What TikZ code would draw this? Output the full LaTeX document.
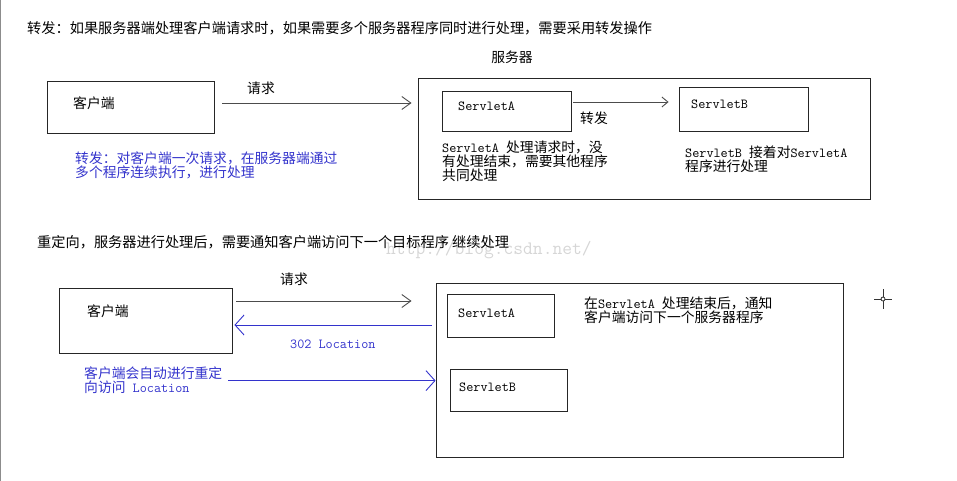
\documentclass[tikz,border=0pt]{standalone}
\usepackage{fontspec}
\setmainfont{Noto Sans CJK SC}
\usetikzlibrary{arrows.meta,calc}
\definecolor{noteblue}{RGB}{51,51,204}
\newcommand{\enmono}[1]{{\ttfamily #1}}

\begin{document}
\begin{tikzpicture}[x=1pt,y=-1pt,
  box/.style={draw=black!85,line width=0.9pt,inner sep=0pt},
  txt/.style={inner sep=0pt,font=\fontsize{13.8pt}{14pt}\selectfont},
  headline/.style={txt,anchor=west,font=\fontsize{14.2pt}{14pt}\selectfont},
  note/.style={txt,align=left,anchor=north west},
  arr/.style={draw=black!70,line width=0.9pt,-{Straight Barb[length=9pt,width=13pt]}},
  bluearr/.style={arr,draw=noteblue,-{Straight Barb[length=9pt,width=20pt]}}]

\useasboundingbox (0,0) rectangle (957,481);

% Left edge
\draw[black!45,line width=1pt] (0.5,0) -- (0.5,481);

% Forwarding
\node[headline] (fwdtitle) at (27,28) {转发：如果服务器端处理客户端请求时，如果需要多个服务器程序同时进行处理，需要采用转发操作};
\node[txt] (srvlabel) at (512,57) {服务器};

% Client and server boxes
\node[box,minimum width=167pt,minimum height=52pt] (client1) at (130.5,107) {};
\node[txt,anchor=west] (client1txt) at (73,103) {客户端};
\node[box,minimum width=452pt,minimum height=121pt] (server1) at (644,138.5) {};

% Servlets inside the server
\node[box,minimum width=129pt,minimum height=40pt] (servletA1) at (506.5,111) {};
\node[txt,anchor=west] (servletA1txt) at (458,106) {\enmono{ServletA}};
\node[box,minimum width=129pt,minimum height=44pt] (servletB1) at (743.5,109) {};
\node[txt,anchor=west] (servletB1txt) at (691,104) {\enmono{ServletB}};

% Request and forward
\draw[arr] ($(client1.east)+(8,-4)$) -- ($(client1.east -| server1.west)+(-6,-4)$);
\node[txt,anchor=west] (req1) at (247,88) {请求};
\draw[arr,-{Straight Barb[length=6pt,width=10pt]}] ($(servletA1.east)+(2,-9)$) -- ($(servletA1.east -| servletB1.west)+(-10,-9)$);
\node[txt,anchor=west] (fwd) at (580,118) {转发};

% Notes
\node[note] (noteA1) at (442,141) {\enmono{ServletA }处理请求时，没\\有处理结束，需要其他程序\\共同处理};
\node[note] (noteB1) at (685,146) {\enmono{ServletB }接着对\enmono{ServletA}\\程序进行处理};
\node[note,text=noteblue] (fwdnote) at (75,152) {转发：对客户端一次请求，在服务器端通过\\多个程序连续执行，进行处理};

% Redirect
\node[anchor=west,inner sep=0pt,text=black!16,font=\fontsize{19pt}{19pt}\ttfamily] (watermark) at (386,250) {http://blog.csdn.net/};
\node[headline] (redirtitle) at (37,242) {重定向，服务器进行处理后，需要通知客户端访问下一个目标程序 继续处理};

\node[box,minimum width=173pt,minimum height=65pt] (client2) at (145.5,320.5) {};
\node[txt,anchor=west] (client2txt) at (87,311) {客户端};
\node[box,minimum width=407pt,minimum height=174pt] (server2) at (639.5,370) {};

\node[box,minimum width=107pt,minimum height=43pt] (servletA2) at (500.5,315.5) {};
\node[txt,anchor=west] (servletA2txt) at (458,313) {\enmono{ServletA}};
\node[box,minimum width=117pt,minimum height=42pt] (servletB2) at (508.5,390) {};
\node[txt,anchor=west] (servletB2txt) at (459,387) {\enmono{ServletB}};

% Request, 302 and second request
\draw[arr] ($(client2.east)+(4,-19.5)$) -- ($(client2.east -| server2.west)+(-24,-19.5)$);
\node[txt,anchor=west] (req2) at (280,279) {请求};
\draw[bluearr] ($(client2.east -| server2.west)+(-4,4.5)$) -- ($(client2.east)+(2,4.5)$);
\node[txt,anchor=west,text=noteblue] (loc) at (290,344) {\enmono{302 Location}};
\node[note,text=noteblue] (redirnote) at (84,367) {客户端会自动进行重定\\向访问\enmono{ Location}};
\draw[bluearr] ($(redirnote.east)+(6,0)$) -- (redirnote.east -| server2.west);

\node[note] (noteA2) at (584,297) {在\enmono{ServletA }处理结束后，通知\\客户端访问下一个服务器程序};

% Cursor
\draw[black!80,line width=0.8pt] (874,299) -- (892,299) (883,289) -- (883,309);
\draw[black!80,line width=0.8pt,fill=white] (883,299) circle[radius=2pt];

\end{tikzpicture}
\end{document}
